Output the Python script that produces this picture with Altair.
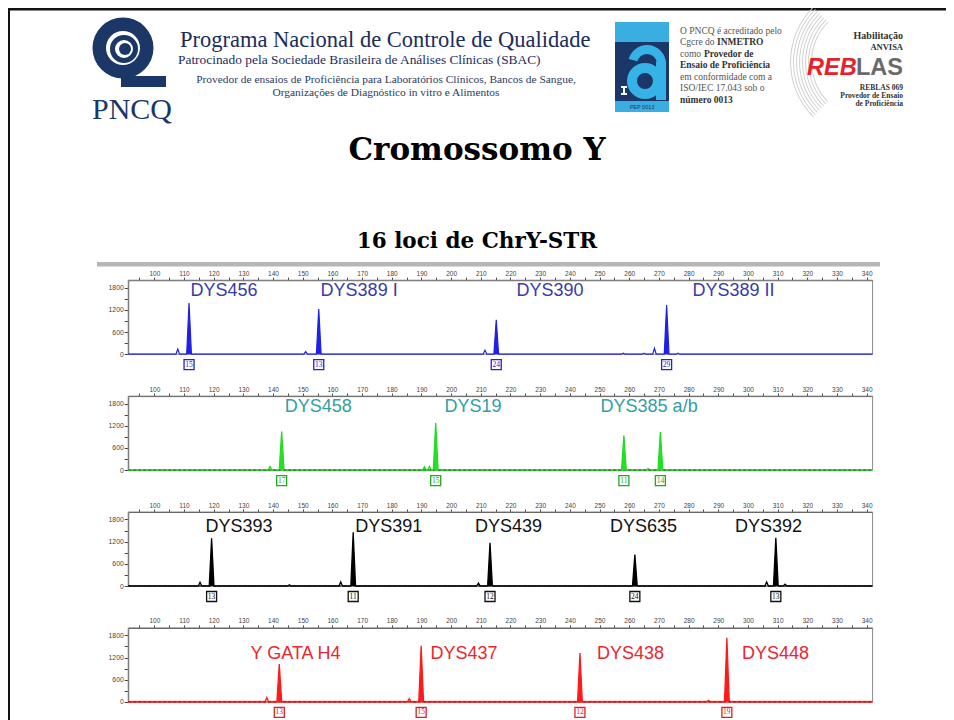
import math
import altair as alt
import pandas as pd

# ---------------- data ----------------
X_DOMAIN = [91.2, 342.0]          # size in bp
Y_DOMAIN = [0, 2000]              # RFU
X_TICK_VALUES = list(range(95, 345, 5))
Y_TICK_VALUES = [0, 300, 600, 900, 1200, 1500, 1800]

# Panel 1 - blue dye
BLUE_LOCI = ["DYS456", "DYS389 I", "DYS390", "DYS389 II"]
BLUE_LOCUS_BP = [123.5, 169.0, 233.3, 295.1]
BLUE_PEAK_BP = [111.7, 155.4, 215.2, 272.6]
BLUE_PEAK_RFU = [1380, 1220, 930, 1330]
BLUE_ALLELES = ["15", "13", "24", "29"]
BLUE_MINOR_BP = [107.9, 151.0, 211.4, 258.0, 265.0, 268.5, 276.5]
BLUE_MINOR_RFU = [140, 70, 110, 25, 30, 160, 30]

# Panel 2 - green dye
GREEN_LOCI = ["DYS458", "DYS19", "DYS385 a/b"]
GREEN_LOCUS_BP = [155.2, 207.4, 266.7]
GREEN_PEAK_BP = [142.9, 194.8, 258.2, 270.5]
GREEN_PEAK_RFU = [1045, 1275, 935, 1030]
GREEN_ALLELES = ["17", "15", "11", "14"]
GREEN_MINOR_BP = [139.0, 191.0, 192.7, 266.4]
GREEN_MINOR_RFU = [100, 90, 100, 40]

# Panel 3 - black (yellow) dye
BLACK_LOCI = ["DYS393", "DYS391", "DYS439", "DYS635", "DYS392"]
BLACK_LOCUS_BP = [128.5, 179.0, 219.3, 264.8, 306.9]
BLACK_PEAK_BP = [119.3, 167.0, 213.1, 261.9, 309.4]
BLACK_PEAK_RFU = [1290, 1450, 1170, 850, 1300]
BLACK_ALLELES = ["13", "11", "12", "24", "13"]
BLACK_MINOR_BP = [115.4, 145.5, 162.8, 209.2, 306.3, 312.5]
BLACK_MINOR_RFU = [100, 30, 110, 80, 110, 50]

# Panel 4 - red dye
RED_LOCI = ["Y GATA H4", "DYS437", "DYS438", "DYS448"]
RED_LOCUS_BP = [147.6, 204.3, 260.4, 309.3]
RED_PEAK_BP = [142.1, 189.9, 243.4, 292.9]
RED_PEAK_RFU = [1020, 1520, 1320, 1730]
RED_ALLELES = ["13", "15", "12", "19"]
RED_MINOR_BP = [137.9, 185.9, 286.7]
RED_MINOR_RFU = [120, 90, 40]

LOCUS_LABEL_RFU = [1705, 1705, 1595, 1295]

# header texts
TITLE = "Cromossomo Y"
SUBTITLE = "16 loci de ChrY-STR"
ORG_NAME = "Programa Nacional de Controle de Qualidade"
ORG_SPONSOR = "Patrocinado pela Sociedade Brasileira de Análises Clínicas (SBAC)"
ORG_SCOPE = ["Provedor de ensaios de Proficiência para Laboratórios Clínicos, Bancos de Sangue,",
             "Organizações de Diagnóstico in vitro e Alimentos"]
LOGO_TEXT = "PNCQ"
ACCRED_LINES = [
    [("O PNCQ é acreditado pelo", "normal", 680)],
    [("Cgcre do", "normal", 680), ("INMETRO", "bold", 717)],
    [("como", "normal", 680), ("Provedor de", "bold", 704)],
    [("Ensaio de Proficiência", "bold", 680)],
    [("em conformidade com a", "normal", 680)],
    [("ISO/IEC 17.043 sob o", "normal", 680)],
    [("número 0013", "bold", 680)],
]
REBLAS_TOP = ["Habilitação", "ANVISA"]
REBLAS_BOTTOM = ["REBLAS 069", "Provedor de Ensaio", "de Proficiência"]

# ---------------- layout (page pixels; chart origin is at page 8,8) ----------------
M = 8
X_RANGE = [128.2 - M, 872.6 - M]
PANEL_ZERO = [354.2 - M, 470.1 - M, 586.0 - M, 701.9 - M]
PLOT_H = 74
MAIN_W = 0.8
MINOR_W = 0.6
ONE = pd.DataFrame({"k": [0]})
TAU = 2 * math.pi


def T(s, x, y, size, font="Liberation Serif", color="#000", weight="normal",
      align="left", baseline="middle", style="normal"):
    return alt.Chart(pd.DataFrame({"t": [s]})).mark_text(
        font=font, fontSize=size, color=color, fontWeight=weight, align=align,
        baseline=baseline, fontStyle=style
    ).encode(text="t:N", x=alt.value(x - M), y=alt.value(y - M))


def R(x0, y0, x1, y1, color):
    return alt.Chart(ONE).mark_rect(color=color).encode(
        x=alt.value(x0 - M), x2=alt.value(x1 - M), y=alt.value(y0 - M), y2=alt.value(y1 - M))


def A(cx, cy, rin, rout, color, t0=0.0, t1=TAU):
    return alt.Chart(ONE).mark_arc(innerRadius=rin, outerRadius=rout, theta=t0, theta2=t1,
                                   color=color).encode(x=alt.value(cx - M), y=alt.value(cy - M))


NAVY = "#1a3768"
CYAN = "#37b2e6"
header = []
# slide border
header.append(R(8, 8, 954, 10.5, "#111"))
header.append(R(8, 8, 10, 720, "#111"))
# PNCQ logo
header += [A(123, 48, 17, 30.5, NAVY), A(124, 49, 9, 14, NAVY), A(125, 49, 0, 6, NAVY),
           R(121, 76, 166, 87, NAVY)]
header.append(T(LOGO_TEXT, 132, 110, 30, color=NAVY, align="center"))
header.append(T(ORG_NAME, 180, 40, 22.5, color="#1b2c5c"))
header.append(T(ORG_SPONSOR, 178, 60, 13.4, color="#1b2c5c"))
header.append(T(ORG_SCOPE[0], 386, 80, 11.4, color="#2c3a5e", align="center"))
header.append(T(ORG_SCOPE[1], 386, 92.5, 11.4, color="#2c3a5e", align="center"))
# accreditation logo (graphic "a" drawn as shapes)
header += [R(615, 22, 669, 112, "#3aaee0"), R(615, 42, 669, 101, NAVY)]
header += [A(645, 81, 8, 18, CYAN), R(656, 62, 666, 100, CYAN),
           A(647, 64, 10, 19, CYAN, 4.98, TAU), A(647, 64, 10, 19, CYAN, 0, 1.6)]
header.append(R(621, 86, 627, 88, "#ffffff"))
header.append(R(623, 86, 625, 95, "#ffffff"))
header.append(R(621, 93, 627, 95, "#ffffff"))
header.append(T("PEP 0013", 642, 107, 5.5, font="Liberation Sans", color=NAVY, align="center"))
# accreditation text
line_y = [31.0, 42.3, 53.5, 64.8, 76.5, 88.0, 99.5]
for yy, parts in zip(line_y, ACCRED_LINES):
    for s, w, xx in parts:
        header.append(T(s, xx, yy, 9.5, color="#333" if w == "bold" else "#555", weight=w))
# REBLAS logo swoosh
for r in range(56, 78, 3):
    header.append(A(868, 62, r, r + 0.9, "#cdcdcd", 3.93, 5.5))
header.append(T(REBLAS_TOP[0], 903, 36, 10, color="#333", weight="bold", align="right"))
header.append(T(REBLAS_TOP[1], 903, 47, 8.5, color="#333", weight="bold", align="right"))
header.append(T("REB", 807, 75, 23.5, font="Liberation Sans", color="#e8202a", weight="bold",
                style="italic", baseline="alphabetic"))
header.append(T("LAS", 903, 75, 23.5, font="Liberation Sans", color="#6a6a6a", weight="bold",
                align="right", baseline="alphabetic"))
header.append(T(REBLAS_BOTTOM[0], 903, 88, 7.5, color="#333", weight="bold", align="right"))
header.append(T(REBLAS_BOTTOM[1], 903, 96, 7.5, color="#333", weight="bold", align="right"))
header.append(T(REBLAS_BOTTOM[2], 903, 103.5, 7.5, color="#333", weight="bold", align="right"))
# titles
header.append(T(TITLE, 477, 160, 31, font="DejaVu Serif", weight="bold", align="center",
                baseline="alphabetic"))
header.append(T(SUBTITLE, 477, 248, 21.5, font="DejaVu Serif", weight="bold", align="center",
                baseline="alphabetic"))
# gray band at the top of the electropherogram
header.append(R(97, 262, 880, 266.5, "#b6b6b6"))


def build_panel(i, loci, locus_bp, peak_bp, peak_rfu, alleles, minor_bp, minor_rfu, st):
    zero = PANEL_ZERO[i]
    top = zero - PLOT_H
    xs = alt.Scale(domain=X_DOMAIN, range=X_RANGE, zero=False, nice=False)
    ys = alt.Scale(domain=Y_DOMAIN, range=[zero, top], zero=False, nice=False)
    xa = alt.Axis(orient="top", offset=-top, values=X_TICK_VALUES, format="d",
                  labelExpr="datum.value % 10 === 0 ? datum.label : ''", title=None, grid=False,
                  domainColor="#444", tickColor="#444", tickSize=3, labelFontSize=6.5,
                  labelFont="Liberation Sans", labelColor="#444", labelPadding=1,
                  labelFlush=False, labelOverlap=False)
    ya = alt.Axis(orient="left", offset=-X_RANGE[0], values=Y_TICK_VALUES, format="d",
                  labelExpr="datum.value % 600 === 0 ? datum.label : ''", title=None, grid=False,
                  domainColor="#444", tickColor="#444", tickSize=4, labelFontSize=6.8,
                  labelFont="Liberation Sans", labelColor="#444", labelPadding=1,
                  labelFlush=False, labelOverlap=False)

    def X(f):
        return alt.X(f, type="quantitative", scale=xs, axis=xa)

    def Y(f):
        return alt.Y(f, type="quantitative", scale=ys, axis=ya)

    bumps = sorted([(b, h, MAIN_W) for b, h in zip(peak_bp, peak_rfu)] +
                   [(b, h, MINOR_W) for b, h in zip(minor_bp, minor_rfu)])
    tx, ty = [X_DOMAIN[0]], [0]
    for b, h, w in bumps:
        tx += [b - w, b, b + w]
        ty += [0, h, 0]
    tx.append(X_DOMAIN[1])
    ty.append(0)
    trace = pd.DataFrame({"bp": tx, "rfu": ty, "o": list(range(len(tx)))})

    fx, fy, fk = [], [], []
    for k, (b, h) in enumerate(zip(peak_bp, peak_rfu)):
        fx += [b - MAIN_W, b, b + MAIN_W]
        fy += [0, h, 0]
        fk += [k, k, k]
    fills = pd.DataFrame({"bp": fx, "rfu": fy, "pk": fk})

    frame = pd.DataFrame({"x0": [X_DOMAIN[0]], "x1": [X_DOMAIN[1]],
                          "y0": [Y_DOMAIN[0]], "y1": [Y_DOMAIN[1]]})
    labels = pd.DataFrame({"bp": locus_bp, "rfu": [LOCUS_LABEL_RFU[i]] * len(loci), "name": loci})
    boxes = pd.DataFrame({"bp": peak_bp, "rfu": [0] * len(peak_bp), "allele": alleles})

    layers = [
        alt.Chart(frame).mark_rect(fillOpacity=0, stroke="#8a8a8a", strokeWidth=1).encode(
            x=X("x0"), x2="x1", y=Y("y0"), y2="y1"),
    ]
    if st.get("noise"):
        layers.append(alt.Chart(frame).mark_rule(color=st["noise"], strokeWidth=2.2).encode(
            x=X("x0"), x2="x1", y=Y("y0")))
    layers += [
        alt.Chart(trace).mark_line(color=st["trace"], strokeWidth=st["tw"]).encode(
            x=X("bp"), y=Y("rfu"), order="o:Q"),
    ]
    if st.get("dash"):
        layers.append(alt.Chart(frame).mark_rule(color=st["dash"], strokeWidth=1,
                                                 strokeDash=[3, 2]).encode(
            x=X("x0"), x2="x1", y=Y("y0")))
    layers += [
        alt.Chart(fills).mark_area(color=st["fill"], line=False, opacity=1).encode(
            x=X("bp"), y=Y("rfu"), detail="pk:N"),
        alt.Chart(labels).mark_text(font="Liberation Sans", fontSize=18, color=st["label"],
                                    baseline="middle", align="center").encode(
            x=X("bp"), y=Y("rfu"), text="name:N"),
        alt.Chart(boxes).mark_square(size=100, filled=True, fill="white", stroke=st["box"],
                                     strokeWidth=1.3, yOffset=10.5, opacity=1).encode(
            x=X("bp"), y=Y("rfu")),
        alt.Chart(boxes).mark_text(font="Liberation Serif", fontSize=7.5, color=st["box"],
                                   yOffset=10.5, baseline="middle", align="center").encode(
            x=X("bp"), y=Y("rfu"), text="allele:N"),
    ]
    return alt.layer(*layers)


STYLES = [
    {"trace": "#2222e0", "fill": "#1f1fe6", "label": "#3a3aa8", "box": "#2424c8", "tw": 1.2},
    {"trace": "#22d822", "fill": "#22e022", "label": "#2fa0a4", "box": "#1faa1f", "tw": 1.3,
     "noise": "#7ad07a", "dash": "#2f5a2f"},
    {"trace": "#000000", "fill": "#000000", "label": "#111111", "box": "#111111", "tw": 1.3,
     "noise": "#9a9a9a", "dash": "#111111"},
    {"trace": "#ff1a1a", "fill": "#ff1a1a", "label": "#ea2630", "box": "#e02020", "tw": 1.3,
     "noise": "#f07070", "dash": "#a01010"},
]

p1 = build_panel(0, BLUE_LOCI, BLUE_LOCUS_BP, BLUE_PEAK_BP, BLUE_PEAK_RFU, BLUE_ALLELES,
                 BLUE_MINOR_BP, BLUE_MINOR_RFU, STYLES[0])
p2 = build_panel(1, GREEN_LOCI, GREEN_LOCUS_BP, GREEN_PEAK_BP, GREEN_PEAK_RFU, GREEN_ALLELES,
                 GREEN_MINOR_BP, GREEN_MINOR_RFU, STYLES[1])
p3 = build_panel(2, BLACK_LOCI, BLACK_LOCUS_BP, BLACK_PEAK_BP, BLACK_PEAK_RFU, BLACK_ALLELES,
                 BLACK_MINOR_BP, BLACK_MINOR_RFU, STYLES[2])
p4 = build_panel(3, RED_LOCI, RED_LOCUS_BP, RED_PEAK_BP, RED_PEAK_RFU, RED_ALLELES,
                 RED_MINOR_BP, RED_MINOR_RFU, STYLES[3])

chart = alt.layer(*header, p1, p2, p3, p4).resolve_scale(
    x="independent", y="independent"
).properties(
    width=938, height=712, padding=0, autosize=alt.AutoSizeParams(type="none"),
    background="white"
).configure_view(stroke=None)

chart.save("out.html", embed_options={"renderer": "svg", "actions": False})
